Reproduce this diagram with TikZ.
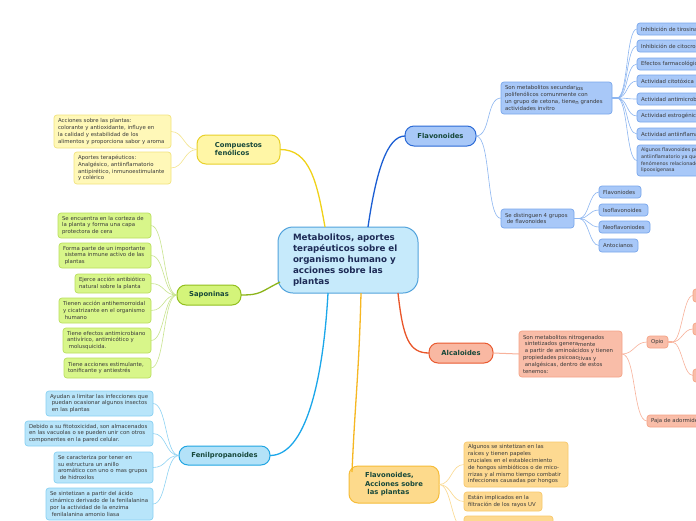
\documentclass[tikz,border=0pt]{standalone}
\usepackage{fontspec}
\setmainfont{DejaVu Sans}
\usetikzlibrary{calc}
\definecolor{ctxt}{HTML}{1D2B56}
\definecolor{ttxt}{HTML}{17483A}
\definecolor{ltxt}{HTML}{3A3A3A}
\definecolor{cfill}{HTML}{C6EAFB}
\definecolor{cdraw}{HTML}{52A3DC}
\definecolor{yfill}{HTML}{FFF6A6}
\definecolor{ydraw}{HTML}{E8D12A}
\definecolor{ylfill}{HTML}{FFF8B8}
\definecolor{yldraw}{HTML}{F2E37E}
\definecolor{yline}{HTML}{F0D21A}
\definecolor{ylline}{HTML}{F4E58C}
\definecolor{bfill}{HTML}{A8C8F8}
\definecolor{bdraw}{HTML}{2B6AD6}
\definecolor{bldraw}{HTML}{78A6EC}
\definecolor{bline}{HTML}{1B5ED3}
\definecolor{blline}{HTML}{8DB6F1}
\definecolor{gfill}{HTML}{D4F47A}
\definecolor{gdraw}{HTML}{92BF1E}
\definecolor{glfill}{HTML}{D8F68A}
\definecolor{gldraw}{HTML}{BADF5E}
\definecolor{gline}{HTML}{8CB41A}
\definecolor{glline}{HTML}{C8E48E}
\definecolor{ffill}{HTML}{B3E2F8}
\definecolor{fdraw}{HTML}{20A5E2}
\definecolor{flfill}{HTML}{B8E5FA}
\definecolor{fldraw}{HTML}{88D1F3}
\definecolor{fline}{HTML}{1BA7EA}
\definecolor{flline}{HTML}{8ED3F3}
\definecolor{rfill}{HTML}{F9B8A2}
\definecolor{rdraw}{HTML}{E95A30}
\definecolor{rlfill}{HTML}{F9BDA8}
\definecolor{rldraw}{HTML}{F5A386}
\definecolor{rline}{HTML}{E9562A}
\definecolor{rlline}{HTML}{F8B29B}
\definecolor{ofill}{HTML}{FDDA8C}
\definecolor{odraw}{HTML}{F6BC38}
\definecolor{olfill}{HTML}{FDD991}
\definecolor{oldraw}{HTML}{F8C86A}
\definecolor{oline}{HTML}{F6B722}
\definecolor{olline}{HTML}{FBD98E}
\tikzset{
  base/.style={anchor=north west, align=left, outer sep=0pt},
  ctr/.style={base, draw=cdraw, fill=cfill, line width=1pt, rounded corners=15pt, text=ctxt,
    font=\bfseries\fontsize{8.7}{11}\selectfont, inner xsep=15pt, inner ysep=0pt},
  topic/.style={base, line width=1pt, rounded corners=9pt, text=ttxt,
    font=\bfseries\fontsize{6.8}{8}\selectfont, inner sep=0pt},
  leaf/.style={base, line width=0.7pt, rounded corners=3pt, text=ltxt,
    font=\fontsize{5.4}{6.8}\selectfont, inner xsep=4pt, inner ysep=0pt},
  sz/.code 2 args={\pgfmathsetmacro\mytw{#1-8}\tikzset{minimum width=#1pt,minimum height=#2pt,text width=\mytw pt}},
  yl/.style={leaf, draw=yldraw, fill=ylfill},
  gl/.style={leaf, draw=gldraw, fill=glfill},
  fl/.style={leaf, draw=fldraw, fill=flfill},
  bl/.style={leaf, draw=bldraw, fill=bfill},
  rl/.style={leaf, draw=rldraw, fill=rlfill},
  ol/.style={leaf, draw=oldraw, fill=olfill},
  mainline/.style={line width=1.3pt},
  lk/.style={line width=0.6pt},
  stub/.style={line width=1.6pt},
}
\begin{document}
\begin{tikzpicture}[x=1pt,y=-1pt]
\useasboundingbox (0,0) rectangle (696,520);
\fill[white] (0,0) rectangle (696,520);
\clip (0,0) rectangle (696,520);

% central node
\node[ctr, minimum width=140pt, minimum height=66pt, text width=110pt] (c) at (278,227)
  {\mbox{Metabolitos, aportes}\\\mbox{terapéuticos sobre el}\\\mbox{organismo humano y}\\\mbox{acciones sobre las}\\\mbox{plantas}};

% main topics
\node[topic, draw=ydraw, fill=yfill, minimum width=83pt, minimum height=29pt] (cf) at (197,135) {Compuestos\\fenólicos};
\node[topic, draw=bdraw, fill=bfill, minimum width=71pt, minimum height=20pt] (flav) at (405,126) {Flavonoides};
\node[topic, draw=gdraw, fill=gfill, minimum width=64pt, minimum height=20pt] (sap) at (177,285) {Saponinas};
\node[topic, draw=fdraw, fill=ffill, minimum width=91pt, minimum height=19pt] (fen) at (179,446) {Fenilpropanoides};
\node[topic, draw=rdraw, fill=rfill, minimum width=64pt, minimum height=20pt] (alc) at (429,343) {Alcaloides};
\node[topic, draw=odraw, fill=ofill, minimum width=90pt, minimum height=37pt, font=\bfseries\fontsize{6.8}{8.5}\selectfont] (fa) at (349,466)
  {\mbox{Flavonoides,}\\\mbox{Acciones sobre}\\\mbox{\ las plantas}};

% main connectors
\draw[mainline, yline] ([xshift=-23pt]c.north) .. controls +(-8,-45) and +(30,0) .. (cf.east);
\draw[mainline, bline] ([xshift=20pt]c.north) .. controls +(8,-55) and +(-18,0) .. (flav.west);
\draw[mainline, gline] ([xshift=2pt,yshift=-22pt]c.west) .. controls +(-20,10) and +(20,0) .. (sap.east);
\draw[mainline, fline] ([xshift=-20pt]c.south) .. controls +(-5,90) and +(35,0) .. (fen.east);
\draw[mainline, oline] ([xshift=13pt]c.south) .. controls +(-2,80) and +(3,-70) .. ([xshift=3pt,yshift=-6pt]fa.north west);
\draw[mainline, rline] ([xshift=50pt]c.south) .. controls +(5,45) and +(-20,0) .. (alc.west);

% Compuestos fenolicos leaves
\node[yl, sz={117}{33}] (ca) at (54,115) {\mbox{Acciones sobre las plantas:}\\\mbox{colorante y antioxidante, influye en}\\\mbox{la calidad y estabilidad de los}\\\mbox{alimentos y proporciona sabor y aroma}};
\node[yl, sz={97}{32}] (cb) at (74,152) {\mbox{Aportes terapéuticos:}\\\mbox{Analgésico, antiinflamatorio}\\\mbox{antipirético, inmunoestimulante}\\\mbox{y colérico}};
\foreach \n in {ca,cb}
  \draw[lk, ylline] (cf.west) .. controls +(-13,0) and +(13,0) .. (\n.east);

% Saponinas leaves
\node[gl, sz={93}{25}] (s1) at (58,213) {\mbox{Se encuentra en la corteza de}\\\mbox{la planta y forma una capa}\\\mbox{protectora de cera}};
\node[gl, sz={92}{25}] (s2) at (59,243) {\mbox{Forma parte de un importante}\\\mbox{\ sistema inmune activo de las}\\\mbox{\ plantas}};
\node[gl, sz={76}{19}] (s3) at (75,274) {\mbox{Ejerce acción antibiótico}\\\mbox{natural sobre la planta}};
\node[gl, sz={92}{25}] (s4) at (59,298) {\mbox{Tienen acción antihemorroidal}\\\mbox{y cicatrizante en el organismo}\\\mbox{\ humano}};
\node[gl, sz={88}{25}] (s5) at (63,328) {\mbox{Tiene efectos antimicrobiano}\\\mbox{antivírico, antimicótico y}\\\mbox{\ molusquicida.}};
\node[gl, sz={87}{20}] (s6) at (64,358) {\mbox{Tiene acciones estimulante,}\\\mbox{tonificante y antiestrés}};
\foreach \n in {s1,s2,s3,s4,s5,s6}
  \draw[lk, glline] (sap.west) .. controls +(-14,0) and +(14,0) .. (\n.east);

% Fenilpropanoides leaves
\node[fl, sz={107}{25}] (f1) at (46,391) {\mbox{Ayudan a limitar las infecciones que}\\\mbox{\ puedan ocasionar algunos insectos}\\\mbox{\ en las plantas}};
\node[fl, sz={128}{25}] (f2) at (25,421) {\mbox{Debido a su fitotoxicidad, son almacenados}\\\mbox{en las vacuolas o se pueden unir con otros}\\\mbox{componentes en la pared celular.}};
\node[fl, sz={99}{31}] (f3) at (54,452) {\mbox{Se caracteriza por tener en}\\\mbox{su estructura un anillo}\\\mbox{aromático con uno o mas grupos}\\\mbox{\ de hidroxilos}};
\node[fl, sz={107}{32}] (f4) at (46,488) {\mbox{Se sintetizan a partir del ácido}\\\mbox{cinámico derivado de la fenilalanina}\\\mbox{por la actividad de la enzima}\\\mbox{\ fenilalanina amonio liasa}};
\foreach \n in {f1,f2,f3,f4}
  \draw[lk, flline] (fen.west) .. controls +(-14,0) and +(14,0) .. (\n.east);

% Flavonoides leaves
\node[bl, sz={111}{32}] (v1) at (501,82) {\mbox{Son metabolitos secundar\raisebox{-1pt}{ios}}\\\mbox{polifenólicos comunmente con}\\\mbox{un grupo de cetona, tiene\raisebox{-1pt}{n} grandes}\\\mbox{actividades invitro}};
\node[bl, sz={73}{19}] (v2) at (501,209) {\mbox{Se distinguen 4 grupos}\\\mbox{\ de flavonoides}};
\foreach \n in {v1,v2}
  \draw[lk, blline] (flav.east) .. controls +(15,0) and +(-15,0) .. (\n.west);

\node[bl, sz={90}{12}] (t1) at (637,23) {\mbox{Inhibición de tirosinasa}};
\node[bl, sz={90}{12}] (t2) at (637,40) {\mbox{Inhibición de citocromo}};
\node[bl, sz={90}{12}] (t3) at (637,58) {\mbox{Efectos farmacológicos}};
\node[bl, sz={90}{12}] (t4) at (637,75) {\mbox{Actividad citotóxica}};
\node[bl, sz={90}{12}] (t5) at (637,93) {\mbox{Actividad antimicrobiana}};
\node[bl, sz={90}{12}] (t6) at (637,110) {\mbox{Actividad estrogénica}};
\node[bl, sz={90}{12}] (t7) at (637,128) {\mbox{Actividad antiinflamatoria}};
\node[bl, sz={90}{31}, font=\fontsize{4.9}{6.6}\selectfont] (t8) at (637,145) {\mbox{Algunos flavonoides presentan}\\\mbox{antiinflamatorio ya que inhiben}\\\mbox{fenómenos relacionados con}\\\mbox{lipooxigenasa}};
\coordinate (v1f) at ([xshift=5pt]v1.east);
\draw[stub, blline] (v1.east) -- (v1f);
\foreach \n in {t1,t2,t3,t4,t5,t6,t7,t8}
  \draw[lk, blline] (v1f) .. controls +(11,0) and +(-11,0) .. (\n.west);

\node[bl, sz={42}{12}] (g1) at (599,186) {\mbox{Flavoniodes}};
\node[bl, sz={49}{12}] (g2) at (599,204) {\mbox{Isoflavonoides}};
\node[bl, sz={51}{12}] (g3) at (599,221) {\mbox{Neoflavoniodes}};
\node[bl, sz={39}{13}] (g4) at (599,239) {\mbox{Antocianos}};
\coordinate (v2f) at ([xshift=5pt]v2.east);
\draw[stub, blline] (v2.east) -- (v2f);
\foreach \n in {g1,g2,g3,g4}
  \draw[lk, blline] (v2f) .. controls +(10,0) and +(-10,0) .. (\n.west);

% Alcaloides leaves
\node[rl, sz={103}{46}] (a1) at (519,331) {\mbox{Son metabolitos nitrogenados}\\\mbox{\ sintetizados genera\raisebox{-1pt}{mente}}\\\mbox{\ a partir de aminoácidos y tienen}\\\mbox{propiedades psicoac\raisebox{-1pt}{tivas y}}\\\mbox{\ analgésicas, dentro de estos}\\\mbox{tenemos:}};
\draw[lk, rlline, line width=1pt] (alc.east) -- (a1.west);
\node[rl, sz={21}{12}, inner xsep=2pt] (opio) at (647,336) {\mbox{Opio}};
\node[rl, sz={80}{12}] (paja) at (647,415) {\mbox{Paja de adormidera}};
\draw[lk, rlline] (a1.east) .. controls +(12,0) and +(-12,0) .. (opio.west);
\draw[lk, rlline] (a1.east) .. controls +(14,0) and +(-14,0) .. (paja.west);
\node[rl, sz={30}{13}] (o1) at (693,289) {};
\node[rl, sz={30}{12}] (o2) at (693,323) {};
\node[rl, sz={30}{13}] (o3) at (693,369) {};
\coordinate (opf) at ([xshift=4pt]opio.east);
\draw[stub, rlline] (opio.east) -- (opf);
\foreach \n in {o1,o2,o3}
  \draw[lk, rlline] (opf) .. controls +(10,0) and +(-10,0) .. (\n.west);

% Flavonoides, acciones leaves
\node[ol, sz={104}{45}] (p1) at (464,442) {\mbox{Algunos se sintetizan en las}\\\mbox{raíces y tienen papeles}\\\mbox{cruciales en el establecimiento}\\\mbox{de hongos simbióticos o de mico-}\\\mbox{rrizas y al mismo tiempo combatir}\\\mbox{infecciones causadas por hongos}};
\node[ol, sz={78}{19}] (p2) at (464,492) {\mbox{Están implicados en la}\\\mbox{filtración de los rayos UV}};
\node[ol, sz={89}{25}] (p3) at (464,516) {};
\foreach \n in {p1,p2,p3}
  \draw[lk, olline] (fa.east) .. controls +(13,0) and +(-13,0) .. (\n.west);
\end{tikzpicture}
\end{document}
